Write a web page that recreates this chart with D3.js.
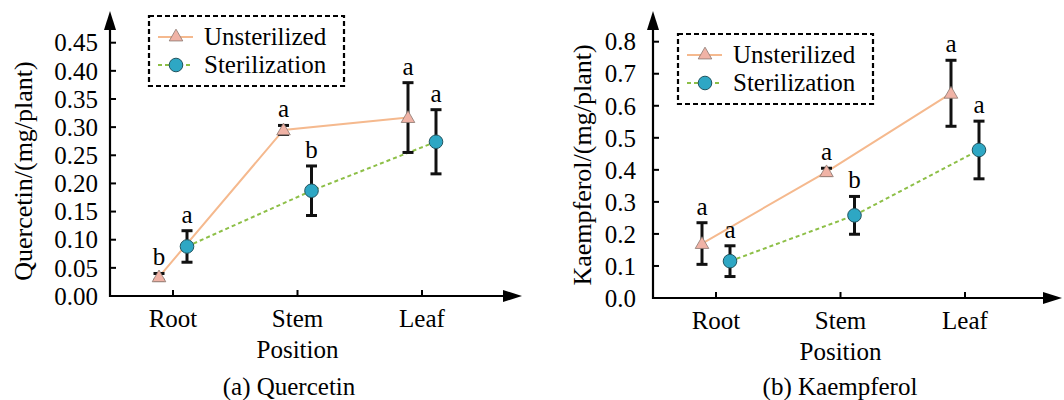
<!DOCTYPE html>
<html>
<head>
<meta charset="utf-8">
<script src="https://cdn.jsdelivr.net/npm/d3@7"></script>
<style>
  body { margin: 0; background: #fff; }
  text { font-family: "Liberation Serif", "DejaVu Serif", serif; }
</style>
</head>
<body>
<svg id="chart" width="1064" height="400"></svg>
<script>
const positions = ["Root", "Stem", "Leaf"];
const seriesNames = ["Unsterilized", "Sterilization"];

// (a) Quercetin, mg/plant
const quercetinUnst = [0.034, 0.295, 0.317];
const quercetinUnstErr = [0.006, 0.008, 0.062];
const quercetinSter = [0.088, 0.187, 0.274];
const quercetinSterErr = [0.028, 0.044, 0.057];
const quercetinUnstLetters = ["b", "a", "a"];
const quercetinSterLetters = ["a", "b", "a"];
const quercetinTicks = [0.00, 0.05, 0.10, 0.15, 0.20, 0.25, 0.30, 0.35, 0.40, 0.45];

// (b) Kaempferol, mg/plant
const kaempferolUnst = [0.170, 0.394, 0.639];
const kaempferolUnstErr = [0.065, 0.011, 0.103];
const kaempferolSter = [0.115, 0.258, 0.462];
const kaempferolSterErr = [0.048, 0.059, 0.090];
const kaempferolUnstLetters = ["a", "a", "a"];
const kaempferolSterLetters = ["a", "b", "a"];
const kaempferolTicks = [0.0, 0.1, 0.2, 0.3, 0.4, 0.5, 0.6, 0.7, 0.8];

const orange = "#f5b98e";
const green = "#8dbf47";
const triFill = "#f0b3a6";
const dotFill = "#2ea7c4";
const fs = 25;

const svg = d3.select("#chart");

function drawPanel(p) {
  const g = svg.append("g");
  const x = d3.scalePoint().domain(positions).range([p.axisX + 63, p.axisX + 312]);
  const y = d3.scaleLinear().domain([0, p.yMax]).range([p.axisY, p.yTop]);
  const off = 14;

  // axes
  g.append("line").attr("x1", p.axisX).attr("x2", p.axisX)
    .attr("y1", p.axisY + 1).attr("y2", 24)
    .attr("stroke", "#000").attr("stroke-width", 2.2);
  g.append("path").attr("d", `M${p.axisX},11 L${p.axisX - 6},30 L${p.axisX + 6},30 Z`).attr("fill", "#000");
  g.append("line").attr("x1", p.axisX - 1).attr("x2", p.xEnd - 12)
    .attr("y1", p.axisY).attr("y2", p.axisY)
    .attr("stroke", "#000").attr("stroke-width", 2.2);
  g.append("path").attr("d", `M${p.xEnd},${p.axisY} L${p.xEnd - 19},${p.axisY - 6} L${p.xEnd - 19},${p.axisY + 6} Z`).attr("fill", "#000");

  // y ticks
  const yt = g.selectAll(".yt").data(p.ticks).enter().append("g");
  yt.append("line").attr("x1", p.axisX).attr("x2", p.axisX + 6)
    .attr("y1", d => y(d)).attr("y2", d => y(d))
    .attr("stroke", "#000").attr("stroke-width", 2);
  yt.append("text").attr("x", p.axisX - p.labelGap).attr("y", d => y(d))
    .attr("dy", "0.35em").attr("text-anchor", "end")
    .attr("font-size", fs).text(d => d.toFixed(p.decimals));

  // x ticks
  const xt = g.selectAll(".xt").data(positions).enter().append("g");
  xt.append("line").attr("x1", d => x(d)).attr("x2", d => x(d))
    .attr("y1", p.axisY).attr("y2", p.axisY - 6)
    .attr("stroke", "#000").attr("stroke-width", 2);
  xt.append("text").attr("x", d => x(d)).attr("y", p.axisY + 31)
    .attr("text-anchor", "middle").attr("font-size", fs).text(d => d);

  g.append("text").attr("x", x("Stem")).attr("y", p.axisY + 62)
    .attr("text-anchor", "middle").attr("font-size", fs).text("Position");
  g.append("text").attr("x", p.titleX).attr("y", 395)
    .attr("text-anchor", "middle").attr("font-size", fs).text(p.title);
  g.append("text")
    .attr("transform", `translate(${p.yLabelX},${p.yLabelY}) rotate(-90)`)
    .attr("text-anchor", "middle").attr("font-size", 26).text(p.yLabel);

  const unst = positions.map((c, i) => ({ c, v: p.unst[i], e: p.unstErr[i], l: p.unstLetters[i], x: x(c) - off }));
  const ster = positions.map((c, i) => ({ c, v: p.ster[i], e: p.sterErr[i], l: p.sterLetters[i], x: x(c) + off }));

  const line = d3.line().x(d => d.x).y(d => y(d.v));
  g.append("path").datum(unst).attr("d", line).attr("fill", "none")
    .attr("stroke", orange).attr("stroke-width", 2);
  g.append("path").datum(ster).attr("d", line).attr("fill", "none")
    .attr("stroke", green).attr("stroke-width", 2).attr("stroke-dasharray", "4,3");

  [unst, ster].forEach(s => {
    const eb = g.selectAll(null).data(s).enter().append("g")
      .attr("stroke", "#111").attr("stroke-width", 3);
    eb.append("line").attr("x1", d => d.x).attr("x2", d => d.x)
      .attr("y1", d => y(d.v - d.e)).attr("y2", d => y(d.v + d.e));
    eb.append("line").attr("x1", d => d.x - 5.5).attr("x2", d => d.x + 5.5)
      .attr("y1", d => y(d.v + d.e)).attr("y2", d => y(d.v + d.e));
    eb.append("line").attr("x1", d => d.x - 5.5).attr("x2", d => d.x + 5.5)
      .attr("y1", d => y(d.v - d.e)).attr("y2", d => y(d.v - d.e));
    g.selectAll(null).data(s).enter().append("text")
      .attr("x", d => d.x).attr("y", d => y(d.v + d.e) - 8)
      .attr("text-anchor", "middle").attr("font-size", fs).text(d => d.l);
  });

  const tri = d3.symbol().type(d3.symbolTriangle).size(80);
  g.selectAll(null).data(unst).enter().append("path")
    .attr("d", tri).attr("transform", d => `translate(${d.x},${y(d.v) + 1})`)
    .attr("fill", triFill).attr("stroke", "#8a7770").attr("stroke-width", 0.8);
  g.selectAll(null).data(ster).enter().append("circle")
    .attr("cx", d => d.x).attr("cy", d => y(d.v)).attr("r", 6.8)
    .attr("fill", dotFill).attr("stroke", "#21545f").attr("stroke-width", 1);

  // legend
  const lg = g.append("g").attr("transform", `translate(${p.legX},${p.legY})`);
  lg.append("rect").attr("width", 195).attr("height", 70)
    .attr("fill", "#fff").attr("stroke", "#000").attr("stroke-width", 2.2)
    .attr("stroke-dasharray", "5,3");
  seriesNames.forEach((name, i) => {
    const ly = 21 + i * 28;
    lg.append("line").attr("x1", 9).attr("x2", 44).attr("y1", ly).attr("y2", ly)
      .attr("stroke", i === 0 ? orange : green).attr("stroke-width", 2)
      .attr("stroke-dasharray", i === 0 ? null : "4,3");
    if (i === 0) {
      lg.append("path").attr("d", tri).attr("transform", `translate(27,${ly})`)
        .attr("fill", triFill).attr("stroke", "#8a7770").attr("stroke-width", 0.8);
    } else {
      lg.append("circle").attr("cx", 27).attr("cy", ly).attr("r", 6.8)
        .attr("fill", dotFill).attr("stroke", "#21545f").attr("stroke-width", 1);
    }
    lg.append("text").attr("x", 55).attr("y", ly + 8).attr("font-size", fs).text(name);
  });
}

drawPanel({
  axisX: 110, axisY: 296, yTop: 42.7, yMax: 0.45, xEnd: 522,
  ticks: quercetinTicks, decimals: 2, labelGap: 12,
  unst: quercetinUnst, unstErr: quercetinUnstErr, unstLetters: quercetinUnstLetters,
  ster: quercetinSter, sterErr: quercetinSterErr, sterLetters: quercetinSterLetters,
  title: "(a) Quercetin", titleX: 289,
  yLabel: "Quercetin/(mg/plant)", yLabelX: 32, yLabelY: 171,
  legX: 149, legY: 16
});

drawPanel({
  axisX: 653, axisY: 298, yTop: 41.7, yMax: 0.8, xEnd: 1062,
  ticks: kaempferolTicks, decimals: 1, labelGap: 17,
  unst: kaempferolUnst, unstErr: kaempferolUnstErr, unstLetters: kaempferolUnstLetters,
  ster: kaempferolSter, sterErr: kaempferolSterErr, sterLetters: kaempferolSterLetters,
  title: "(b) Kaempferol", titleX: 840,
  yLabel: "Kaempferol/(mg/plant)", yLabelX: 591, yLabelY: 165,
  legX: 678, legY: 34
});
</script>
</body>
</html>
